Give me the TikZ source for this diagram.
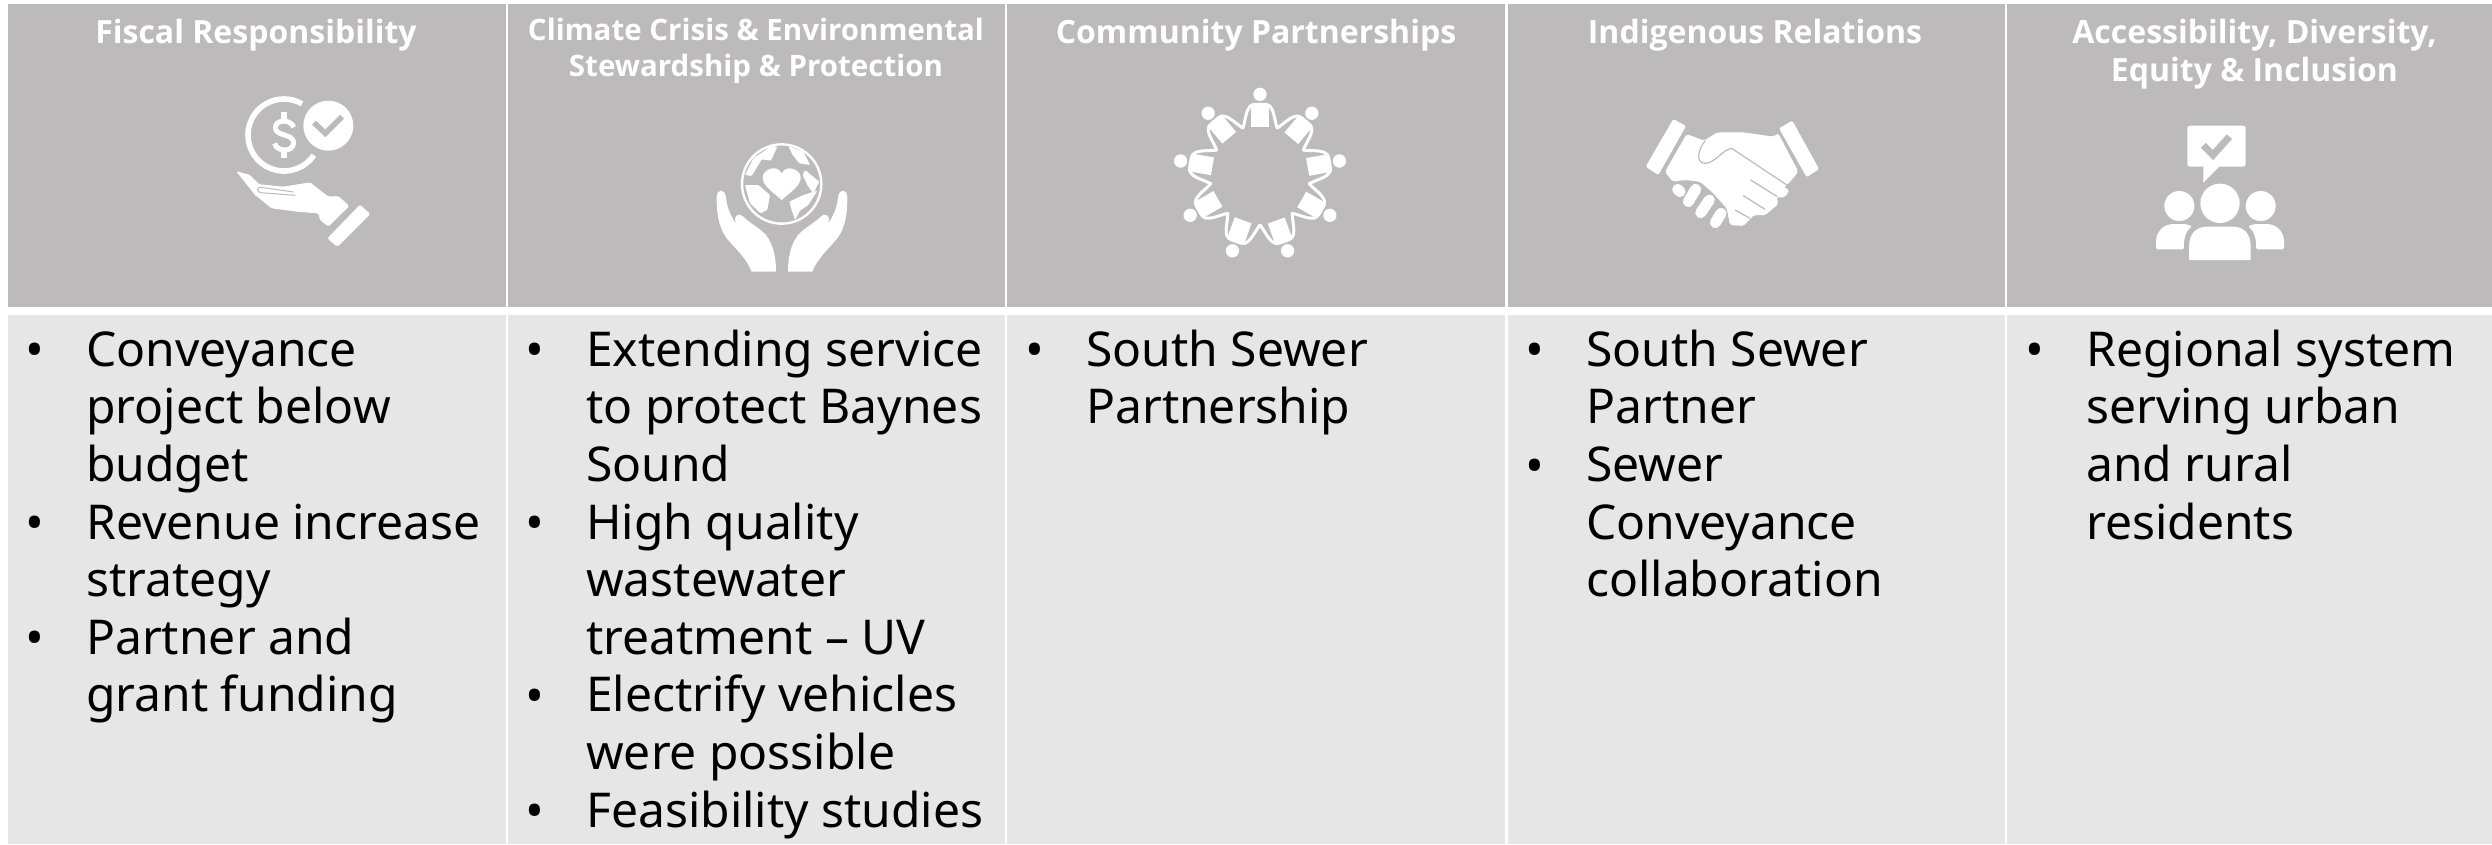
\documentclass[tikz,border=0pt]{standalone}
\usepackage{fontspec}
\setmainfont{Noto Sans}
\newfontfamily\headfont{Open Sans}
\definecolor{headgray}{HTML}{BCBABB}
\definecolor{bodygray}{HTML}{E7E6E6}
\tikzset{
  headcell/.style={fill=headgray,draw=none,inner sep=0pt,outer sep=0pt,anchor=north west,minimum height=303pt},
  bodycell/.style={fill=bodygray,draw=none,inner sep=0pt,outer sep=0pt,anchor=north west,minimum height=529pt},
  headtxt/.style={text=white,font=\headfont\fontsize{32}{38.5}\selectfont\bfseries,inner sep=0pt,anchor=base,align=center},
  headtxtsmall/.style={text=white,font=\headfont\fontsize{29.5}{36}\selectfont\bfseries,inner sep=0pt,anchor=base,align=center},
  bodytxt/.style={text=black,font=\fontsize{48}{57.6}\selectfont,inner sep=0pt,anchor=base west,align=left},
  icon/.style={fill=white,draw=none},
  iconline/.style={draw=white,line cap=round,line join=round},
  cutline/.style={draw=headgray,line cap=butt,line join=miter}
}
\newcommand{\bul}{\llap{\raisebox{-1.5pt}{\fontsize{50}{57.6}\selectfont •}\hspace{42pt}}}
\newcommand{\handpath}{(80,232) .. controls (80,205) and (105,205) .. (108,232) .. controls (112,270) and (125,300) .. (165,345) .. controls (150,330) and (135,315) .. (135,298) .. controls (135,283) and (150,280) .. (160,290) .. controls (180,310) and (210,325) .. (228,345) .. controls (250,375) and (258,410) .. (258,455) -- (185,455) .. controls (170,415) and (135,385) .. (110,355) .. controls (85,320) and (80,280) .. (80,232) -- cycle}
\begin{document}
\begin{tikzpicture}[x=1pt,y=1pt,yscale=-1]
\useasboundingbox (0,0) rectangle (2492,844);
% header and body cells
\node[headcell,minimum width=497.5pt] (h1) at (8,4) {};
\node[headcell,minimum width=497pt] (h2) at (508,4) {};
\node[headcell,minimum width=498pt] (h3) at (1006.5,4) {};
\node[headcell,minimum width=497pt] (h4) at (1507.5,4) {};
\node[headcell,minimum width=485pt] (h5) at (2007,4) {};
\node[bodycell,minimum width=497.5pt] (b1) at (8,315) {};
\node[bodycell,minimum width=497pt] (b2) at (508,315) {};
\node[bodycell,minimum width=498pt] (b3) at (1006.5,315) {};
\node[bodycell,minimum width=497pt] (b4) at (1507.5,315) {};
\node[bodycell,minimum width=485pt] (b5) at (2007,315) {};
% header texts
\node[headtxt] (t1) at (256,43) {Fiscal Responsibility};
\node[headtxtsmall] (t2) at (756,76) {Climate Crisis \& Environmental\\Stewardship \& Protection};
\node[headtxt] (t3) at (1256,43) {Community Partnerships};
\node[headtxt] (t4) at (1755,43) {Indigenous Relations};
\node[headtxt] (t5) at (2254.5,81.5) {Accessibility, Diversity,\\Equity \& Inclusion};
% body texts
\node[bodytxt] (c1a) at (86,481.5) {\bul Conveyance\\project below\\budget};
\node[bodytxt] (c1b) at (86,596.7) {\bul Revenue increase\\strategy};
\node[bodytxt] (c1c) at (86,711.9) {\bul Partner and\\grant funding};
\node[bodytxt] (c2a) at (586,481.5) {\bul Extending service\\to protect Baynes\\Sound};
\node[bodytxt] (c2b) at (586,654.3) {\bul High quality\\wastewater\\treatment – UV};
\node[bodytxt] (c2c) at (586,769.5) {\bul Electrify vehicles\\were possible};
\node[bodytxt] (c2d) at (586,827.1) {\bul Feasibility studies};
\node[bodytxt] (c3a) at (1086,423.9) {\bul South Sewer\\Partnership};
\node[bodytxt] (c4a) at (1586,423.9) {\bul South Sewer\\Partner};
\node[bodytxt] (c4b) at (1586,596.7) {\bul Sewer\\Conveyance\\collaboration};
\node[bodytxt] (c5a) at (2086,539.1) {\bul Regional system\\serving urban\\and rural\\residents};
% icon 1: coin, check, hand
\begin{scope}[shift={(200,70)},scale=1/3]
  \draw[iconline,line cap=butt,line width=5.6pt] (252,195) ++(-60:108) arc (-60:-326:108);
  \fill[white] (385,167) circle (75);
  \draw[cutline,line width=5.5pt] (342,158) -- (376,190) -- (426,140);
  \draw[iconline,line cap=butt,line width=5pt] (281,172) .. controls (275,148) and (226,146) .. (226,173) .. controls (226,200) and (281,190) .. (281,218) .. controls (281,248) and (228,246) .. (224,220);
  \fill[white] (244,125) rectangle (262,150);
  \fill[white] (244,240) rectangle (262,265);
  \path[icon,rounded corners=1.5pt] (108,303) -- (150,315) -- (178,343) -- (250,350) -- (330,337) -- (385,380) -- (415,378) -- (448,408) -- (385,470) -- (360,450) -- (355,430) -- (290,425) -- (215,415) -- (165,375) -- cycle;
  \draw[cutline,line width=1pt,line cap=round] (280,366) -- (182,352) .. controls (170,352) and (170,366) .. (182,368) -- (285,376);
  \path[icon,rounded corners=2pt] (480,404) -- (511,432) -- (412,531) -- (382,505) -- cycle;
\end{scope}
% icon 2: globe in hands
\begin{scope}[shift={(690,120)},scale=1/3]
  \draw[white,line width=2.4pt] (275,192) circle (119);
  \path[icon] (275,240) .. controls (240,210) and (218,195) .. (218,172) .. controls (218,150) and (260,130) .. (275,160) .. controls (290,130) and (332,150) .. (332,172) .. controls (332,195) and (310,210) .. (275,240) -- cycle;
  \path[icon,rounded corners=1pt] (165,165) -- (190,115) -- (245,78) -- (262,80) -- (243,122) -- (215,118) -- (205,135) -- (185,168) -- cycle;
  \path[icon,rounded corners=1pt] (295,78) -- (340,95) -- (360,135) -- (328,130) -- (308,105) -- cycle;
  \path[icon,rounded corners=1pt] (345,150) -- (388,185) -- (370,220) -- (352,195) -- (338,165) -- cycle;
  \path[icon,rounded corners=1pt] (165,195) -- (205,195) -- (240,225) -- (232,270) -- (212,280) -- (180,250) -- cycle;
  \path[icon,rounded corners=1pt] (298,245) -- (340,225) -- (382,212) -- (355,255) -- (330,272) -- (315,300) -- (305,270) -- cycle;
  \path[icon] \handpath;
  \begin{scope}[shift={(552,0)},xscale=-1]
    \path[icon] \handpath;
  \end{scope}
\end{scope}
% icon 3: circle of people
\begin{scope}[shift={(1160,75)},scale=1/3]
  \foreach \a in {0,40,...,320} {
    \begin{scope}[rotate around={\a:(300,300)}]
      \fill[white] (300,58) circle (20);
      \fill[white] (274,88) rectangle (328,155);
      \draw[iconline,line width=3pt] (249,159) .. controls (258,130) and (258,88) .. (285,88) -- (315,88) .. controls (342,88) and (342,130) .. (351,159);
    \end{scope}
  }
\end{scope}
% icon 4: handshake
\begin{scope}[shift={(1630,100)},scale=1/3]
  \path[icon,rounded corners=1.5pt] (130,57) -- (168,78) -- (85,225) -- (47,200) -- cycle;
  \path[icon,rounded corners=1.5pt] (487,62) -- (447,85) -- (530,232) -- (567,207) -- cycle;
  \path[icon,rounded corners=2pt] (170,102) -- (222,122) -- (262,97) -- (340,97) -- (430,110) -- (445,100) -- (505,215) -- (478,248) -- (462,262) -- (478,270) -- (465,292) -- (440,292) -- (445,312) -- (405,346) -- (372,345) -- (340,378) -- (300,375) -- (290,325) -- (250,280) -- (210,245) -- (165,240) -- (128,245) -- (105,215) -- cycle;
  \draw[cutline,line width=1.2pt,line join=round] (226,122) .. controls (205,145) and (195,190) .. (225,190) .. controls (255,190) and (275,150) .. (305,145) -- (475,258);
  \draw[cutline,line width=1.2pt] (362,240) -- (442,290);
  \draw[cutline,line width=1.2pt] (340,287) -- (405,328);
  \draw[cutline,line width=1.2pt] (315,330) -- (360,355);
  \draw[iconline,line width=11pt] (143,268) -- (150,275);
  \draw[iconline,line width=11pt] (197,268) -- (175,305);
  \draw[iconline,line width=11pt] (238,300) -- (212,338);
  \draw[iconline,line width=11pt] (273,340) -- (256,368);
\end{scope}
% icon 5: speech bubble and people
\begin{scope}[shift={(2140,110)},scale=1/3]
  \path[icon,rounded corners=2.5pt] (142,47) -- (317,47) -- (317,170) -- (142,170) -- cycle;
  \path[icon] (190,165) -- (190,218) -- (242,165) -- cycle;
  \draw[cutline,line width=7pt] (190,106) -- (219,135) -- (268,80);
  \fill[white] (240,280) circle (59);
  \fill[white] (118,288) circle (45);
  \fill[white] (362,288) circle (45);
  \path[icon] (147,450) -- (147,410) .. controls (147,370) and (170,350) .. (200,350) -- (280,350) .. controls (310,350) and (332,370) .. (332,410) -- (332,450) -- cycle;
  \path[icon,rounded corners=1.5pt] (48,418) -- (48,400) .. controls (48,365) and (70,342) .. (105,342) -- (135,342) -- (157,348) .. controls (140,360) and (130,385) .. (132,418) -- cycle;
  \path[icon,rounded corners=1.5pt] (432,418) -- (432,400) .. controls (432,365) and (410,342) .. (375,342) -- (345,342) -- (323,348) .. controls (340,360) and (350,385) .. (348,418) -- cycle;
\end{scope}
\end{tikzpicture}
\end{document}
